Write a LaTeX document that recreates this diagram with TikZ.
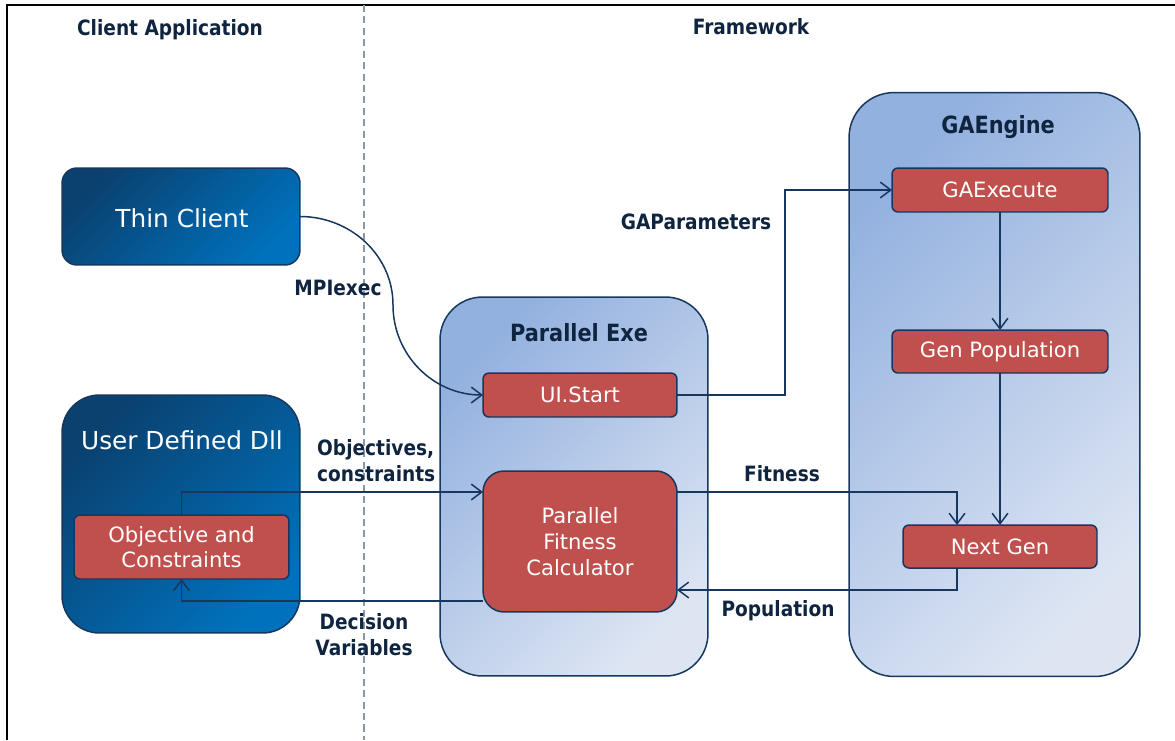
\documentclass[tikz,border=0pt]{standalone}
\usepackage{fontspec}
\setmainfont{DejaVu Sans}
\newfontfamily\lblfont{DejaVu Sans}[FakeStretch=0.88]
\usetikzlibrary{arrows.meta,calc}
\definecolor{navy}{HTML}{17375E}
\definecolor{lbltxt}{HTML}{0F243E}
\definecolor{redbox}{HTML}{C0504D}
\definecolor{dkA}{HTML}{0A416F}
\definecolor{dkB}{HTML}{0071BC}
\definecolor{ltA}{HTML}{93B1DF}
\definecolor{ltB}{HTML}{DDE5F3}
\definecolor{dashgray}{HTML}{8A98A8}
\tikzset{
  darkbox/.style={draw=navy, line width=0.85pt, inner sep=0pt, outer sep=0pt,
    top color=dkA, bottom color=dkB, shading angle=45},
  lightbox/.style={draw=navy, line width=0.85pt, inner sep=0pt, outer sep=0pt,
    top color=ltA, bottom color=ltB, shading angle=45},
  rednode/.style={draw=navy, line width=0.85pt, fill=redbox, inner sep=0pt, outer sep=0pt,
    rounded corners=0.12cm, text=white, font=\fontsize{12pt}{14.5pt}\selectfont, align=center},
  bigtext/.style={text=white, font=\fontsize{14.1pt}{17pt}\selectfont},
  title/.style={text=lbltxt, font=\lblfont\bfseries\fontsize{13.5pt}{16pt}\selectfont},
  lbl/.style={text=lbltxt, font=\lblfont\bfseries\fontsize{12pt}{14.5pt}\selectfont},
  arr/.style={draw=navy, line width=0.85pt, -{Straight Barb[length=6pt,width=9pt]}},
  conn/.style={draw=navy, line width=0.85pt}
}
\begin{document}
\begin{tikzpicture}[x=0.02cm, y=-0.02cm]
\useasboundingbox (0,0) rectangle (1175,740);
% frame
\draw[black, line width=1.2pt] (7,740) -- (7,5) -- (1175,5);
% separator
\draw[dashgray, line width=0.8pt, dash pattern=on 4pt off 2.5pt] (364,5) -- (364,740);
% headings
\node[lbl] (hca) at (170,30) {Client Application};
\node[lbl] (hfw) at (751,27) {Framework};

% client side
\node[darkbox, rounded corners=0.3cm, minimum width=4.76cm, minimum height=1.94cm] (thin) at (181,216.5) {};
\node[bigtext] (thint) at (182,218) {Thin Client};
\node[darkbox, rounded corners=0.75cm, minimum width=4.76cm, minimum height=4.76cm] (udll) at (181,514) {};
\node[bigtext] (udllt) at (182,440) {User Defined Dll};
\node[rednode, minimum width=4.30cm, minimum height=1.28cm] (obj) at (181.5,547) {Objective and\\Constraints};

% parallel exe
\node[lightbox, rounded corners=0.85cm, minimum width=5.36cm, minimum height=7.58cm] (pexe) at (574,486.5) {};
\node[title] (pexet) at (579,333) {Parallel Exe};
\node[rednode, minimum width=3.88cm, minimum height=0.88cm] (uistart) at (580,395) {UI.Start};
\node[rednode, rounded corners=0.42cm, minimum width=3.88cm, minimum height=2.82cm, font=\fontsize{12pt}{15pt}\selectfont] (pfc) at (580,541.5) {Parallel\\Fitness\\Calculator};

% GA engine
\node[lightbox, rounded corners=0.9cm, minimum width=5.82cm, minimum height=11.68cm] (gaeng) at (994.5,384.5) {};
\node[title] (gaengt) at (998,127) {GAEngine};
\node[rednode, minimum width=4.32cm, minimum height=0.88cm] (gaexec) at (1000,190) {GAExecute};
\node[rednode, minimum width=4.32cm, minimum height=0.86cm] (genpop) at (1000,351.5) {Gen Population};
\node[rednode, minimum width=3.88cm, minimum height=0.86cm] (nextgen) at (1000,546.5) {Next Gen};

% connectors
\coordinate (m1) at (393,305);
\draw[arr] (thin.east) to[out=0, in=90] (m1) to[out=-90, in=180] (uistart.west);
\node[lbl] (lmpi) at (338,288) {MPIexec};

\coordinate (c1) at (785,395);
\draw[arr] (uistart.east) -- (c1) |- (gaexec.west);
\node[lbl] (lgap) at (696,222) {GAParameters};

\draw[arr] (gaexec.south) -- (genpop.north);
\draw[arr] (genpop.south) -- (nextgen.north);

\draw[arr] ($(pfc.east)+(0,-49.5)$) -| ($(nextgen.north)+(-43,0)$);
\node[lbl] (lfit) at (782,474) {Fitness};
\draw[arr] ($(nextgen.south)+(-43,0)$) |- ($(pfc.east)+(0,48.5)$);
\node[lbl] (lpop) at (778,611) {Population};

\draw[arr] (obj.north) |- ($(pfc.west)+(0,-49.5)$);
\node[lbl, anchor=west, align=left, font=\lblfont\bfseries\fontsize{12pt}{14.8pt}\selectfont] (lobj) at (311,461) {Objectives,\\constraints};
\draw[arr] ($(pfc.west)+(0,59.5)$) -| (obj.south);
\node[lbl, align=center] (ldec) at (364,634.5) {Decision\\Variables};
\end{tikzpicture}
\end{document}
